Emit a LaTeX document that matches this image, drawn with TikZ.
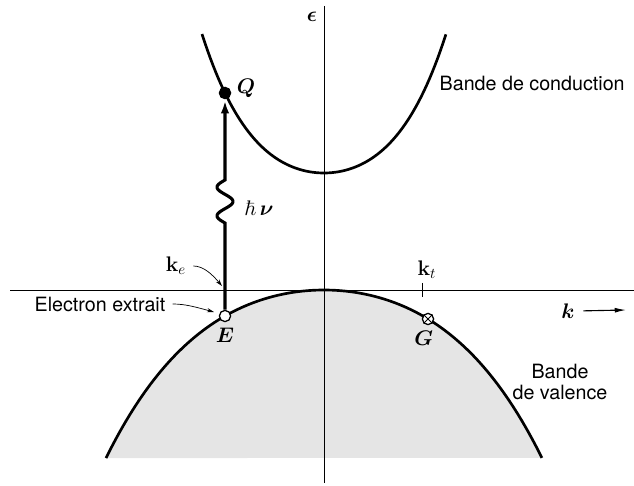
\RequirePackage{fix-cm}
\documentclass[tikz,border=0pt]{standalone}
\usepackage{amssymb}
\usepackage[no-math]{fontspec}
\setmainfont{TeX Gyre Heros}
\usetikzlibrary{positioning, arrows.meta}

\begin{document}
\begin{tikzpicture}[x=0.025cm, y=-0.025cm, node distance=3pt,
  band/.style={line width=1.9pt},
  axis/.style={line width=0.6pt},
  leader/.style={line width=0.5pt, shorten <=4pt, -{Stealth[length=5pt, width=3pt]}},
  lbl/.style={font=\fontsize{14}{15}\selectfont, inner sep=1pt},
  sym/.style={font=\fontsize{15}{17}\selectfont\boldmath, inner sep=1pt},
  vec/.style={font=\fontsize{15}{17}\selectfont, inner sep=1pt},
  dot/.style={circle, draw, line width=0.9pt, minimum size=8pt, inner sep=0pt}]
\useasboundingbox (0,0) rectangle (634,486);

% valence band
\fill[black!10] plot[domain=-2.18:2.18, samples=90]
  ({324+100*\x},{290+24.24*\x*\x+2.34*\x*\x*\x*\x}) -- cycle;
\draw[band] plot[domain=-2.18:2.18, samples=90]
  ({324+100*\x},{290+24.24*\x*\x+2.34*\x*\x*\x*\x});

% axes
\coordinate (kleft) at (10,290);
\coordinate (kright) at (634,290);
\coordinate (etop) at (324,6);
\coordinate (ebot) at (324,483);
\draw[axis] (kleft) -- (kright);
\draw[axis] (etop) -- (ebot);
\node[sym] (eps) at (312,17) {$\epsilon$};

% conduction band
\draw[band] plot[domain=-1.22:1.22, samples=90]
  ({324+100*\x},{173-58.93*\x*\x-23.15*\x*\x*\x*\x});
\node[lbl, anchor=west] (cond) at (438,83) {Bande de conduction};
\node[lbl, align=center] (val) at (560,382) {Bande\\de valence};

% states
\node[dot, fill=black] (Q) at (225,93) {};
\node[dot, fill=white] (E) at (225,316) {};
\node[dot, fill=white] (G) at (428,319) {};
\draw[line width=0.6pt] (G.45) -- (G.225) (G.135) -- (G.315);
\node[sym] (Qlbl) at (246,88) {$Q$};
\node[sym, below=of E] (Elbl) {$E$};
\node[sym, below=of G, xshift=-3pt] (Glbl) {$G$};

% photon
\coordinate (wbot) at (225,223);
\draw[line width=2.2pt, shorten >=1pt, -{Latex[length=9pt, width=6pt]}]
  (E.north) -- (wbot) -- plot[domain=0:1, samples=40] ({225-8*sin(540*\x)},{223-43*\x}) -- (Q.south);
\node[sym] (hnu) at (259,208) {$\hbar\,\nu$};

% wave vectors
\node[vec] (ke) at (176,266) {$\mathbf{k}_e$};
\coordinate (keend) at (222,286);
\draw[leader] (ke.east) to[out=0, in=130] (keend);
\node[lbl] (extr) at (100,304) {Electron extrait};
\coordinate (extrend) at (214,312);
\draw[leader] (extr.east) to[out=0, in=165] (extrend);

\coordinate (kt0) at (422,290);
\draw[axis] (kt0) ++(0,-7) -- ++(0,14);
\node[vec] (kt) at (427,270) {$\mathbf{k}_t$};

\node[sym] (kax) at (568,311) {$k$};
\coordinate (kend) at (626,310);
\draw[line width=0.8pt, shorten <=5pt, -{Latex[length=8pt, width=3.5pt]}] (kax.east) -- (kend);
\end{tikzpicture}
\end{document}
